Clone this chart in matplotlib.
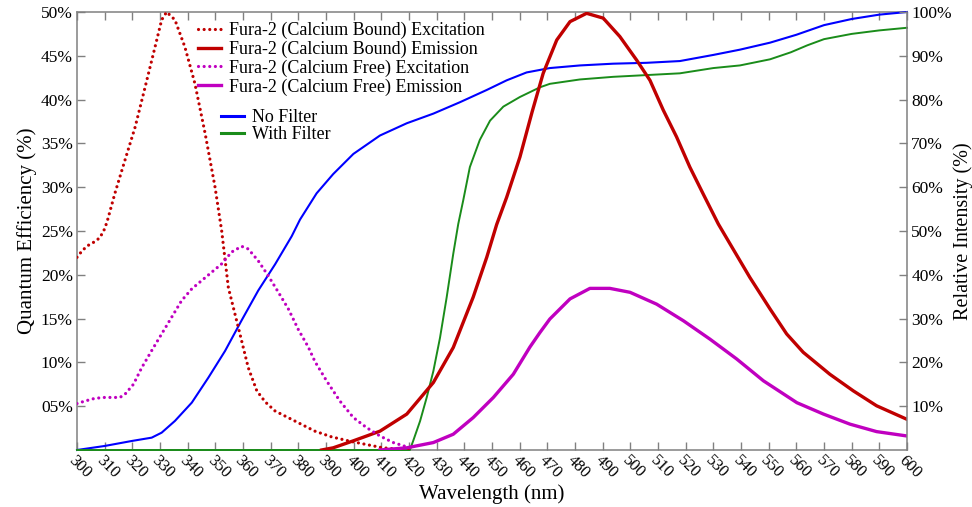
import matplotlib
matplotlib.use("Agg")
import matplotlib.pyplot as plt
from matplotlib.ticker import FixedLocator, FuncFormatter

plt.rcParams['font.family'] = ['Liberation Serif', 'DejaVu Serif']

# ---- data: Fura-2 spectra (relative intensity, %) ----
bound_exc_wl = [300, 302, 304, 306.5, 308.3, 310, 311, 313.7, 317.3, 321, 324.6, 328.2, 330.6, 332.4,
                335.4, 339, 342.6, 346.3, 349.9, 352.3, 354.7, 358.3, 361.9, 365, 368, 371.6, 378.8,
                386, 392, 398.7, 405, 410.6, 416, 420]
bound_exc_val = [44, 45.6, 46.7, 47.6, 48.5, 50.5, 52.4, 58.6, 66.1, 73.7, 82.8, 92, 98.2, 100,
                 98.2, 92, 83.7, 72.3, 60, 50, 37.1, 28, 18.8, 13.5, 11, 8.9, 6.6,
                 4.3, 3, 2, 1.2, 0.5, 0.2, 0]

bound_em_wl = [388.4, 392.6, 399.9, 409.5, 419.2, 428.8, 436, 443.2, 448.1, 451.7, 455.3, 460.1, 464.5,
               468.5, 473.4, 478.2, 484.2, 490.2, 496.2, 502.3, 507.1, 511.9, 516.7, 521.5, 526.3,
               531.8, 536, 543.2, 550.5, 556.5, 562.5, 572.1, 580.6, 589, 600]
bound_em_val = [0, 0.5, 2.1, 4.3, 8.2, 15.4, 23.4, 34.9, 44, 51.5, 57.7, 66.9, 77.2,
                86, 93.6, 97.8, 99.7, 98.6, 94.4, 89, 84.4, 77.6, 71.5, 64.6, 58.5,
                51.6, 47.1, 39.4, 32.2, 26.5, 22.3, 17.3, 13.5, 10.1, 7]

free_exc_wl = [300, 303, 306.5, 310, 315.5, 317.3, 320.4, 323.4, 327, 330.6, 334.2, 337.8, 341.5,
               345.1, 348.7, 352.3, 355.9, 359.5, 361.9, 365.5, 369.1, 372.8, 376.4, 380, 383.6,
               386, 390.2, 395, 399.9, 404.7, 409.5, 414.3, 420.3, 422]
free_exc_val = [10.6, 11.2, 11.8, 12, 12, 12.7, 15, 18.8, 22.7, 26.5, 30.3, 34.1, 36.8,
                38.7, 40.6, 42.5, 45.2, 46.5, 45.9, 43.2, 39.8, 36, 32.2, 27.5, 23.5,
                20.2, 15.8, 11.2, 7.4, 5.1, 3.2, 1.7, 0.5, 0]

free_em_wl = [409.5, 419.2, 428.8, 436, 443.2, 450.5, 457.7, 463.7, 467.3, 470.9, 478.2, 485.4,
              492.6, 499.9, 509.5, 519.2, 528.8, 538.4, 548.1, 560.2, 569.8, 579.4, 589, 600]
free_em_val = [0, 0.5, 1.7, 3.6, 7.4, 12, 17.3, 23.5, 26.8, 29.9, 34.5, 36.9,
               36.9, 36, 33.3, 29.5, 25.3, 20.8, 15.8, 10.8, 8.2, 5.9, 4.2, 3.2]

# ---- data: camera quantum efficiency (%) ----
nofilter_wl = [300, 310, 319.8, 327, 330.6, 335.4, 341.5, 347.5, 353.5, 359.5, 365.5, 371.6, 377.6,
               380.6, 386.6, 392.6, 399.9, 409.5, 419.2, 428.8, 438.4, 448.1, 455.3, 462.5, 470.9,
               481.8, 493.8, 505.9, 517.9, 530, 539.6, 550.5, 560, 570, 580, 590, 600]
nofilter_qe = [0, 0.46, 1.03, 1.41, 1.98, 3.32, 5.41, 8.27, 11.3, 14.8, 18.2, 21.2, 24.4,
               26.3, 29.3, 31.5, 33.8, 35.9, 37.3, 38.4, 39.7, 41.1, 42.2, 43.1, 43.6,
               43.9, 44.1, 44.2, 44.4, 45.1, 45.7, 46.5, 47.4, 48.5, 49.2, 49.7, 50]

filter_wl = [300, 420.3, 421.5, 424, 426.4, 428.8, 431.2, 433.6, 436, 437.8, 439.6, 442, 445.6, 449.3,
             454.1, 460.1, 467.3, 470.9, 481.8, 493.8, 505.9, 517.9, 530, 539.6, 550.5, 558, 564,
             570, 580, 590, 600]
filter_qe = [0, 0, 1.03, 3.3, 6, 9, 12.8, 17.4, 22.4, 25.8, 28.5, 32.3, 35.4, 37.6,
             39.2, 40.3, 41.4, 41.8, 42.3, 42.6, 42.8, 43, 43.6, 43.9, 44.6, 45.4, 46.2,
             46.9, 47.5, 47.9, 48.2]

x_ticks = list(range(300, 601, 10))
qe_ticks = [5, 10, 15, 20, 25, 30, 35, 40, 45, 50]
ri_ticks = [10, 20, 30, 40, 50, 60, 70, 80, 90, 100]

fura_labels = ["Fura-2 (Calcium Bound) Excitation", "Fura-2 (Calcium Bound) Emission",
               "Fura-2 (Calcium Free) Excitation", "Fura-2 (Calcium Free) Emission"]
qe_labels = ["No Filter", "With Filter"]

# ---- styles ----
RED = '#c00000'
MAG = '#c000c0'
BLUE = '#0000ff'
GREEN = '#1a8c1a'
SPINE = '#808080'

fig = plt.figure(figsize=(9.72, 5.07), dpi=100)
ax = fig.add_axes([77/972, 1-450/507, 830/972, 438/507])
ax2 = ax.twinx()

for s in ('top', 'bottom', 'left'):
    ax2.spines[s].set_visible(False)
ax.spines['right'].set_visible(False)

lb, = ax.plot(nofilter_wl, nofilter_qe, color=BLUE, lw=1.5, clip_on=False, zorder=3)
lg, = ax.plot(filter_wl, filter_qe, color=GREEN, lw=1.4, clip_on=False, zorder=3)

dot = (0, (0.01, 1.75))
l1, = ax2.plot(bound_exc_wl, bound_exc_val, color=RED, lw=2.3, linestyle=dot,
               dash_capstyle='round')
l2, = ax2.plot(bound_em_wl, bound_em_val, color=RED, lw=2.4)
l3, = ax2.plot(free_exc_wl, free_exc_val, color=MAG, lw=2.3, linestyle=dot,
               dash_capstyle='round')
l4, = ax2.plot(free_em_wl, free_em_val, color=MAG, lw=2.4)

ax.set_xlim(300, 600)
ax.set_ylim(0, 50)
ax2.set_ylim(0, 100)

ax.xaxis.set_major_locator(FixedLocator(x_ticks))
ax.yaxis.set_major_locator(FixedLocator(qe_ticks))
ax2.yaxis.set_major_locator(FixedLocator(ri_ticks))
ax.yaxis.set_major_formatter(FuncFormatter(lambda v, p: f"{int(v):02d}%"))
ax2.yaxis.set_major_formatter(FuncFormatter(lambda v, p: f"{int(v)}%"))

for a in (ax, ax2):
    for s in a.spines.values():
        s.set_color(SPINE)
        s.set_linewidth(1.1)

ax.tick_params(axis='x', which='both', direction='in', length=5.5, width=1.0, color=SPINE,
               top=True, labelsize=12, pad=2)
ax.tick_params(axis='y', direction='in', length=5.5, width=1.0, color=SPINE, labelsize=12.5, pad=3)
ax2.tick_params(axis='y', direction='in', length=5.5, width=1.0, color=SPINE, labelsize=12.5, pad=3)

for lab in ax.get_xticklabels():
    lab.set_rotation(-45)
    lab.set_ha('left')
    lab.set_va('top')
    lab.set_rotation_mode('anchor')

ax.set_xlabel("Wavelength (nm)", fontsize=15, labelpad=2)
ax.set_ylabel("Quantum Efficiency (%)", fontsize=15, labelpad=3)
ax2.set_ylabel("Relative Intensity (%)", fontsize=14.5, labelpad=1)

leg1 = ax2.legend([l1, l2, l3, l4], fura_labels, loc='upper left',
                  bbox_to_anchor=(121/830, 1 - 10/438), frameon=False, fontsize=13,
                  handlelength=1.3, handletextpad=0.42, labelspacing=0.08,
                  borderpad=0, borderaxespad=0)
ax2.add_artist(leg1)
leg2 = ax2.legend([lb, lg], qe_labels, loc='upper left',
                  bbox_to_anchor=(144/830, 1 - 97/438), frameon=False, fontsize=13,
                  handlelength=1.3, handletextpad=0.42, labelspacing=0.0,
                  borderpad=0, borderaxespad=0)
for lh in leg2.get_lines():
    lh.set_linewidth(2.2)

fig.savefig("out.png", dpi=100)
